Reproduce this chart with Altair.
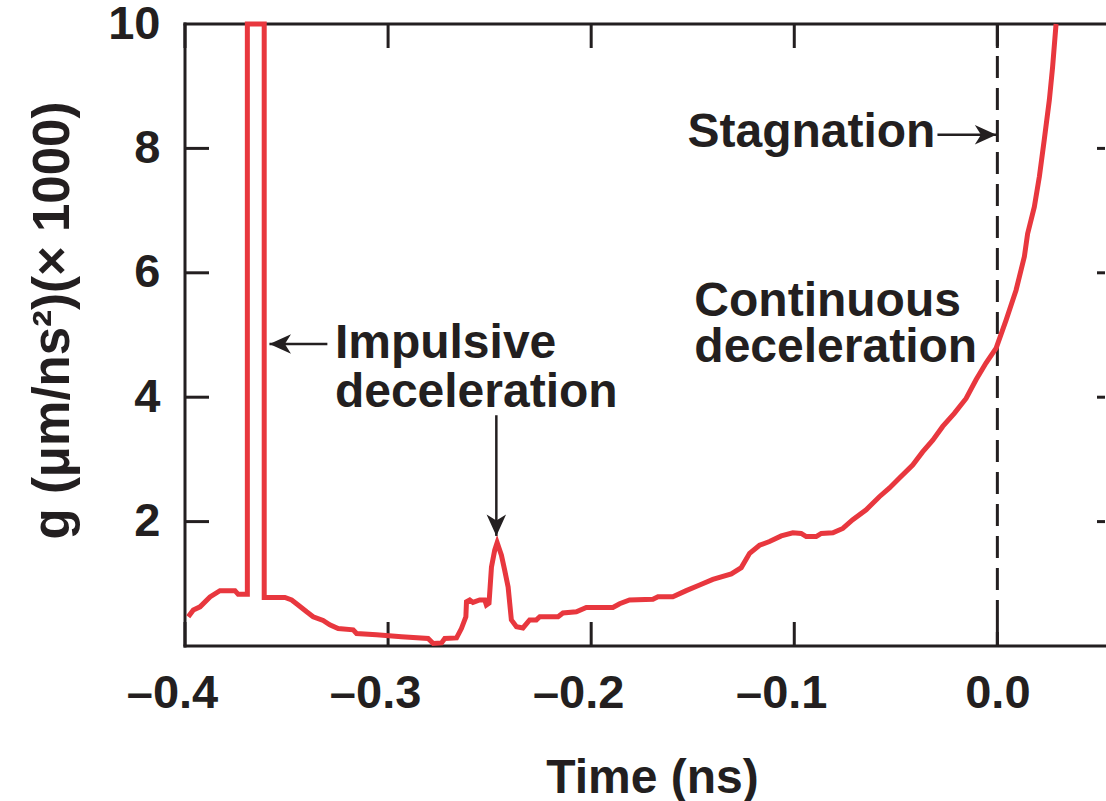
import altair as alt
import pandas as pd

# ---- data ----
time_ns = [-0.3984, -0.3959, -0.3926, -0.3877, -0.3828, -0.3754, -0.3738, -0.3693, -0.3693, -0.3610,
           -0.3610, -0.3508, -0.3475, -0.3443, -0.3401, -0.3369, -0.3320, -0.3287, -0.3246, -0.3172,
           -0.3155, -0.3057, -0.2934, -0.2803, -0.2778, -0.2737, -0.2721, -0.2663, -0.2639, -0.2617,
           -0.2614, -0.2598, -0.2582, -0.2549, -0.2524, -0.2516, -0.2503, -0.2491, -0.2475, -0.2463,
           -0.2442, -0.2426, -0.2409, -0.2393, -0.2368, -0.2336, -0.2303, -0.2270, -0.2253, -0.2163,
           -0.2139, -0.2073, -0.2024, -0.1893, -0.1860, -0.1811, -0.1696, -0.1671, -0.1598, -0.1532,
           -0.1466, -0.1401, -0.1310, -0.1261, -0.1220, -0.1171, -0.1122, -0.1064, -0.1007, -0.0966,
           -0.0941, -0.0892, -0.0867, -0.0810, -0.0761, -0.0712, -0.0646, -0.0581, -0.0531, -0.0482,
           -0.0417, -0.0368, -0.0318, -0.0269, -0.0212, -0.0154, -0.0105, -0.0056, -0.0006, 0.0043,
           0.0092, 0.0133, 0.0149, 0.0182, 0.0207, 0.0231, 0.0256, 0.0272, 0.0289]
g_val = [0.47, 0.58, 0.63, 0.79, 0.89, 0.89, 0.83, 0.83, 10.0, 10.0,
         0.78, 0.78, 0.74, 0.66, 0.55, 0.47, 0.41, 0.34, 0.28, 0.26,
         0.20, 0.18, 0.15, 0.12, 0.04, 0.05, 0.12, 0.13, 0.28, 0.47,
         0.71, 0.74, 0.70, 0.74, 0.74, 0.66, 0.69, 1.27, 1.54, 1.66,
         1.46, 1.22, 0.95, 0.42, 0.31, 0.29, 0.42, 0.42, 0.47, 0.47,
         0.53, 0.55, 0.62, 0.62, 0.68, 0.74, 0.75, 0.79, 0.79, 0.89,
         0.98, 1.07, 1.16, 1.26, 1.49, 1.62, 1.68, 1.77, 1.82, 1.81,
         1.76, 1.76, 1.81, 1.82, 1.89, 2.03, 2.19, 2.40, 2.54, 2.70,
         2.91, 3.12, 3.31, 3.53, 3.74, 3.98, 4.28, 4.55, 4.79, 5.24,
         5.72, 6.26, 6.63, 7.06, 7.55, 8.14, 8.78, 9.31, 10.0]

x_ticks = [-0.4, -0.3, -0.2, -0.1, 0.0]
y_ticks = [2, 4, 6, 8, 10]
y_inner_ticks = [2, 4, 6, 8]
stagnation_t = [0.0]

ann_text = ["Stagnation", "Impulsive", "deceleration", "Continuous", "deceleration"]
ann_t = [-0.1526, -0.3262, -0.3262, -0.1492, -0.1492]
ann_g = [8.02, 4.63, 3.85, 5.30, 4.56]

arrow_t1 = [-0.0295, -0.3299, -0.2467]
arrow_g1 = [8.22, 4.855, 3.71]
arrow_t2 = [-0.0005, -0.3584, -0.2467]
arrow_g2 = [8.22, 4.855, 1.77]
arrow_ang = [0, 180, 90]

# ---- styling ----
RED = "#e8373e"
INK = "#231f20"
FONT = "Liberation Sans"
W, H = 920, 622
XMIN, XMAX = -0.4, 0.053
TICK = 24

xs = alt.Scale(domain=[XMIN, XMAX], nice=False, zero=False)
ys = alt.Scale(domain=[0, 10], nice=False, zero=False)

AX = alt.Axis(
    values=x_ticks, ticks=False, domain=False, grid=False,
    labelExpr="datum.value < 0 ? '\u2013' + format(-datum.value, '.1f') : format(datum.value, '.1f')",
    labelFont=FONT, labelFontSize=47, labelFontWeight="bold", labelColor=INK,
    labelPadding=24, labelFlush=False, labelOverlap=False, labelBound=False,
    labelOffset={"condition": {"test": "datum.value < 0", "value": -13}, "value": 0},
    title="Time (ns)", titleFont=FONT, titleFontSize=48, titleFontWeight="bold",
    titleColor=INK, titleBaseline="alphabetic", titleAlign="center", titleX=467, titleY=146,
)
AY = alt.Axis(
    values=y_ticks, ticks=False, domain=False, grid=False,
    labelFont=FONT, labelFontSize=47, labelFontWeight="bold", labelColor=INK,
    labelPadding=25, labelFlush=False, labelOverlap=False, labelBound=False,
    title="g (\u03bcm/ns\u00b2)(\u00d7 1000)", titleFont=FONT, titleFontSize=51,
    titleFontWeight="bold", titleColor=INK, titleBaseline="alphabetic",
    titleAlign="center", titleAngle=270, titleX=-117, titleY=296,
)

X = lambda f: alt.X(f, scale=xs, axis=AX)
Y = lambda f: alt.Y(f, scale=ys, axis=AY)

curve_df = pd.DataFrame({"t": time_ns, "g": g_val, "i": list(range(len(time_ns)))})
xt_df = pd.DataFrame({"t": x_ticks})
yt_df = pd.DataFrame({"g": y_inner_ticks})
stag_df = pd.DataFrame({"t": stagnation_t})
ann_df = pd.DataFrame({"t": ann_t, "g": ann_g, "label": ann_text})
arr_df = pd.DataFrame({"t": arrow_t1, "g": arrow_g1, "t2": arrow_t2, "g2": arrow_g2, "ang": arrow_ang})
one = pd.DataFrame({"k": [0]})

frame_kw = dict(color=INK, strokeWidth=3, strokeCap="square")
frame_left = alt.Chart(one).mark_rule(**frame_kw).encode(x=alt.value(0), y=alt.value(0), y2=alt.value(H))
frame_top = alt.Chart(one).mark_rule(**frame_kw).encode(x=alt.value(0), x2=alt.value(W), y=alt.value(0))
frame_bot = alt.Chart(one).mark_rule(**frame_kw).encode(x=alt.value(0), x2=alt.value(W), y=alt.value(H))

tick_kw = dict(color=INK, strokeWidth=3)
tick_bot = alt.Chart(xt_df).mark_rule(**tick_kw).encode(x=X("t:Q"), y=alt.value(H - TICK), y2=alt.value(H))
tick_top = alt.Chart(xt_df).mark_rule(**tick_kw).encode(x=X("t:Q"), y=alt.value(0), y2=alt.value(TICK))
tick_left = alt.Chart(yt_df).mark_rule(**tick_kw).encode(y=Y("g:Q"), x=alt.value(0), x2=alt.value(TICK))
tick_right = alt.Chart(yt_df).mark_rule(**tick_kw).encode(y=Y("g:Q"), x=alt.value(W - 8), x2=alt.value(W))

stag = alt.Chart(stag_df).mark_rule(color=INK, strokeWidth=3, strokeDash=[22, 10]).encode(x=X("t:Q"))

line = alt.Chart(curve_df).mark_line(color=RED, strokeWidth=5, strokeJoin="miter").encode(
    x=X("t:Q"), y=Y("g:Q"), order="i:Q"
)

texts = alt.Chart(ann_df).mark_text(
    align="left", baseline="alphabetic", font=FONT, fontSize=48, fontWeight="bold", color=INK
).encode(x=X("t:Q"), y=Y("g:Q"), text="label:N")

shafts = alt.Chart(arr_df).mark_rule(color=INK, strokeWidth=2.5).encode(
    x=X("t:Q"), y=Y("g:Q"), x2="t2:Q", y2="g2:Q"
)
heads = alt.Chart(arr_df).mark_point(
    shape="M0,0 L-2.1,-0.95 L-1.5,0 L-2.1,0.95 Z", filled=True, size=420, color=INK, opacity=1
).encode(x=X("t2:Q"), y=Y("g2:Q"), angle=alt.Angle("ang:Q", scale=None))

chart = alt.layer(
    frame_left, frame_top, frame_bot, tick_bot, tick_top, tick_left, tick_right,
    stag, line, shafts, heads, texts
).properties(
    width=W, height=H, autosize=alt.AutoSizeParams(type="none"),
    padding={"left": 185, "top": 24, "right": 1, "bottom": 155},
    background="white",
).configure_view(strokeWidth=0)

chart.save("out.html", embed_options={"renderer": "svg", "actions": False})
